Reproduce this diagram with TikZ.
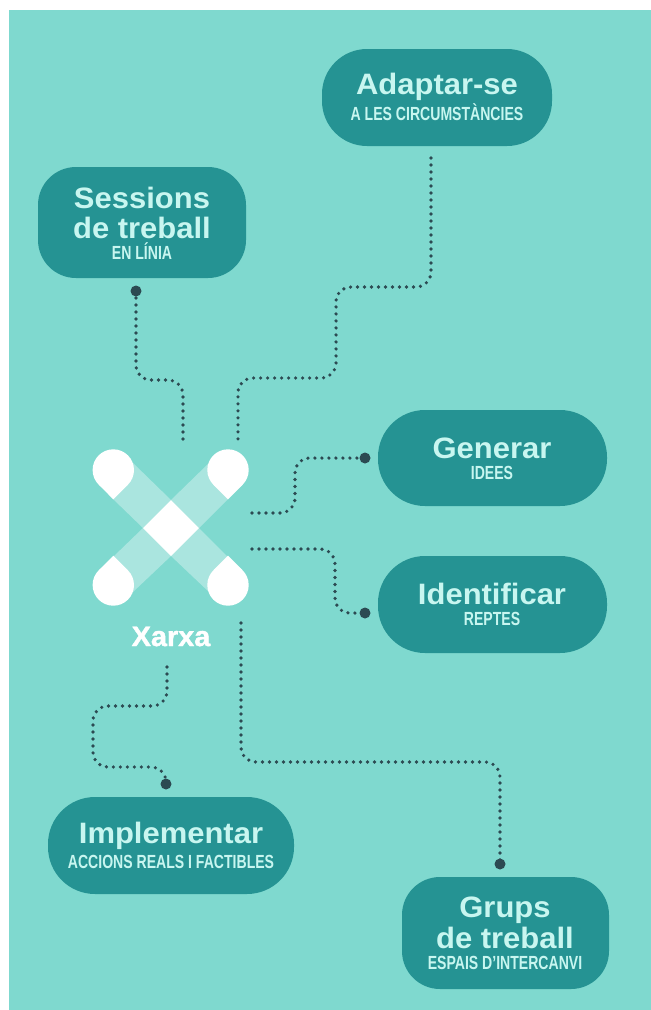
\documentclass[tikz,border=0pt]{standalone}
\usepackage{fontspec}
\usetikzlibrary{calc}
\setmainfont{Liberation Sans}
\newfontfamily\titlef[FakeStretch=1.05]{Liberation Sans Bold}
\newfontfamily\subf[FakeStretch=0.74]{Liberation Sans Bold}
\newfontfamily\xarxaf[FakeStretch=1.03,FakeBold=1.5]{Liberation Sans Bold}
\definecolor{bgc}{HTML}{7FD9CF}
\definecolor{pillc}{HTML}{259393}
\definecolor{txtc}{HTML}{C8F6F0}
\definecolor{dotc}{HTML}{2C4A52}
\tikzset{
  pillbox/.style={fill=pillc,draw=none,inner sep=0pt,rectangle},
  ttext/.style={text=txtc,font=\titlef\fontsize{29.5}{29.5}\selectfont,anchor=base,inner sep=0pt},
  stext/.style={text=txtc,font=\subf\fontsize{19}{19}\selectfont,anchor=base,inner sep=0pt},
  link/.style={draw=dotc,line width=3.6pt,line cap=round,dash pattern=on 0pt off 7pt,rounded corners=15pt},
  enddot/.style={circle,fill=dotc,minimum size=11pt,inner sep=0pt},
  band/.style={fill=white,fill opacity=0.34},
  solidw/.style={fill=white},
}
\newcommand{\pillshape}[6]{% name, x1,y1,x2,y2,radius
  \node[pillbox,rounded corners=#6pt,minimum width=#4pt-#2pt,minimum height=#5pt-#3pt] (#1) at ({(#2+#4)/2},{(#3+#5)/2}) {};}
\newcommand{\teardrop}[3]{% cx cy sign
  \fill[solidw] (#1,#2) circle (20.7);
  \fill[solidw] (#1-14.64,#2+#3*14.64) -- (#1,#2+#3*29.3) -- (#1+14.64,#2+#3*14.64) -- cycle;}
\begin{document}
\begin{tikzpicture}[x=1pt,y=-1pt]
\useasboundingbox (0,0) rectangle (651,1010);
\fill[white] (0,0) rectangle (651,1010);
\fill[bgc] (9,10) rectangle (651,1010);

\pillshape{adaptar}{322}{49}{552}{146}{45}
\pillshape{sessions}{38}{167}{246}{278}{38}
\pillshape{generar}{378}{410}{607}{506}{47}
\pillshape{identificar}{378}{556}{607}{653}{47}
\pillshape{implementar}{48}{797}{294}{894}{47}
\pillshape{grups}{402}{877}{609}{989}{38}

\node[ttext] (t1) at (437,94) {Adaptar-se};
\node[stext] (s1) at (437,120) {A LES CIRCUMSTÀNCIES};
\node[ttext] (t2a) at (142,208) {Sessions};
\node[ttext] (t2b) at (142,238) {de treball};
\node[stext] (s2) at (142,259) {EN LÍNIA};
\node[ttext] (t3) at (492,458) {Generar};
\node[stext] (s3) at (492,479) {IDEES};
\node[ttext] (t4) at (492,604) {Identificar};
\node[stext] (s4) at (492,625) {REPTES};
\node[ttext] (t5) at (171,843) {Implementar};
\node[stext] (s5) at (171,868) {ACCIONS REALS I FACTIBLES};
\node[ttext] (t6a) at (505,917) {Grups};
\node[ttext] (t6b) at (505,948) {de treball};
\node[stext] (s6) at (505,969) {ESPAIS D’INTERCANVI};

% logo
\coordinate (xc) at (171,528);
\fill[band] (171,500) -- (143,528) -- (113,499) -- (133,463) -- cycle;
\fill[band] (171,500) -- (199,528) -- (228,499) -- (209,463) -- cycle;
\fill[band] (171,556) -- (143,528) -- (113,557) -- (133,592) -- cycle;
\fill[band] (171,556) -- (199,528) -- (228,557) -- (209,592) -- cycle;
\fill[solidw] (171,500) -- (199,528) -- (171,556) -- (143,528) -- cycle;
\teardrop{113.3}{470}{1}
\teardrop{228}{470}{1}
\teardrop{113.3}{585}{-1}
\teardrop{228}{585}{-1}
\node[text=white,font=\xarxaf\fontsize{28}{28}\selectfont,anchor=base,inner sep=0pt] (xarxa) at (171,646) {Xarxa};

% connectors
\coordinate (c1) at (183,440);
\coordinate (c2) at (238,440);
\coordinate (c3) at (252,513);
\coordinate (c4) at (252,549);
\coordinate (c5) at (167,667);
\coordinate (c6) at (241,623);
\coordinate (c7) at (431,158);
\node[enddot] (d1) at (136,291) {};
\node[enddot] (d3) at (365,458) {};
\node[enddot] (d4) at (365,613) {};
\node[enddot] (d5) at (166,784) {};
\node[enddot] (d6) at (500,864) {};

\draw[link] (d1.center) -- (136,380) -- (183,380) -- (c1);
\draw[link] (c7) -- (431,287) -- (336,287) -- (336,378) -- (238,378) -- (c2);
\draw[link] (c3) -- (295,513) -- (295,458) -- (d3.center);
\draw[link] (c4) -- (335,549) -- (335,613) -- (d4.center);
\draw[link] (c5) -- (167,706) -- (93,706) -- (93,767) -- (166,767) -- (d5.center);
\draw[link] (c6) -- (241,762) -- (500,762) -- (d6.center);
\end{tikzpicture}
\end{document}
